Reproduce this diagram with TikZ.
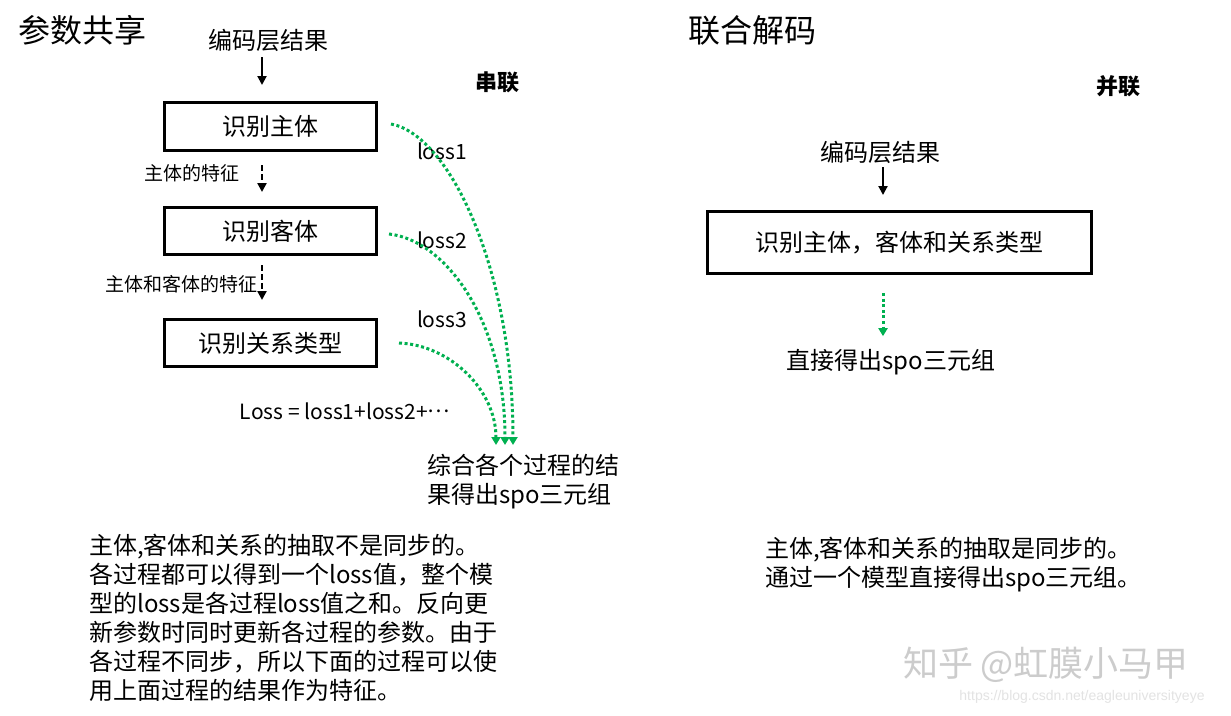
\documentclass[tikz,border=0pt]{standalone}
\usepackage{fontspec}
\setmainfont{Noto Sans CJK SC}
\newfontfamily\urlfont{Liberation Sans}
\usetikzlibrary{arrows.meta}
\definecolor{lossgreen}{RGB}{0,176,80}
\begin{document}
\begin{tikzpicture}[x=1pt,y=-1pt,
  txt/.style={inner sep=0pt, outer sep=0pt, font=\fontsize{24}{29}\selectfont},
  titletxt/.style={inner sep=0pt, font=\fontsize{32}{36}\selectfont},
  tagtxt/.style={inner sep=0pt, font=\fontsize{22}{25}\selectfont\bfseries},
  smalltxt/.style={inner sep=0pt, font=\fontsize{19}{22}\selectfont},
  losstxt/.style={inner sep=0pt, font=\fontsize{21}{24}\selectfont},
  paratxt/.style={inner sep=0pt, align=left, anchor=north west, font=\fontsize{24}{29}\selectfont},
  procbox/.style={draw, line width=3pt, inner sep=0pt, font=\fontsize{24}{29}\selectfont},
  blkarrow/.style={line width=2pt, -{Triangle[width=9pt,length=9pt]}},
  dasharrow/.style={line width=2.5pt, dash pattern=on 6pt off 3pt, -{Triangle[width=9pt,length=9pt]}},
  greenarrow/.style={lossgreen, line width=3pt, dash pattern=on 3pt off 2.6pt, -{Triangle[width=9pt,length=8pt]}},
]
\useasboundingbox (0,0) rectangle (1231,715);
\fill[white] (0,0) rectangle (1231,715);

% ---------- left: 参数共享 ----------
\node[titletxt] (lt) at (83,30) {参数共享};
\node[txt] (enc1) at (268,40) {编码层结果};
\node[tagtxt] (ser) at (497,82) {串联};
\node[procbox, minimum width=212pt, minimum height=48pt] (b1) at (270.5,126.5) {识别主体};
\node[procbox, minimum width=212pt, minimum height=47pt] (b2) at (270.5,231) {识别客体};
\node[procbox, minimum width=212pt, minimum height=47pt] (b3) at (270.5,343) {识别关系类型};
\node[smalltxt] (f1) at (192,173) {主体的特征};
\node[smalltxt] (f2) at (181,284) {主体和客体的特征};
\node[losstxt] (l1) at (442,151) {loss1};
\node[losstxt] (l2) at (442,240) {loss2};
\node[losstxt] (l3) at (442,319) {loss3};
\node[losstxt] (lsum) at (345,411) {Loss = loss1+loss2+\raisebox{0.3em}{…}};
\node[paratxt] (res) at (427,454) {综合各个过程的结\\果得出spo三元组};
\node[paratxt] (p1) at (89,534) {主体,客体和关系的抽取不是同步的。\\各过程都可以得到一个loss值，整个模\\型的loss是各过程loss值之和。反向更\\新参数时同时更新各过程的参数。由于\\各过程不同步，所以下面的过程可以使\\用上面过程的结果作为特征。};

\coordinate (c1) at (262,0);
\draw[blkarrow, shorten <=6pt, shorten >=16pt] (enc1.south -| c1) -- (b1.north -| c1);
\draw[dasharrow, shorten <=13pt, shorten >=14pt] (b1.south -| c1) -- (b2.north -| c1);
\draw[dasharrow, shorten <=9pt, shorten >=18pt] (b2.south -| c1) -- (b3.north -| c1);

\coordinate (e1) at (513,445);
\coordinate (e2) at (505,445);
\coordinate (e3) at (496,445);
\draw[greenarrow] ([xshift=13pt,yshift=2.5pt]b1.east) .. controls (450,135) and (513,270) .. (e1);
\draw[greenarrow] ([xshift=11pt,yshift=-3pt]b2.east) .. controls (445,240) and (505,320) .. (e2);
\draw[greenarrow] ([xshift=21pt]b3.east) .. controls (450,345) and (496,390) .. (e3);

% ---------- right: 联合解码 ----------
\node[titletxt] (rt) at (752,30) {联合解码};
\node[tagtxt] (par) at (1118,86) {并联};
\node[txt] (enc2) at (880,152) {编码层结果};
\node[procbox, minimum width=384pt, minimum height=62pt] (bb) at (899.5,242.5) {识别主体，客体和关系类型};
\node[txt] (direct) at (891,362) {直接得出spo三元组};
\node[paratxt] (p2) at (765,537) {主体,客体和关系的抽取是同步的。\\通过一个模型直接得出spo三元组。};

\coordinate (c2) at (883,0);
\draw[blkarrow, shorten <=4pt, shorten >=15pt] (enc2.south -| c2) -- (bb.north -| c2);
\draw[greenarrow, shorten <=18pt, shorten >=13pt] (bb.south -| c2) -- (direct.north -| c2);

% ---------- watermark ----------
\node[inner sep=0pt, text=gray!40, font=\fontsize{35}{38}\selectfont] (wm) at (1046,665) {知乎 @虹膜小马甲};
\node[inner sep=0pt, text=gray!22, font=\urlfont\fontsize{14}{16}\selectfont] (url) at (1082,697) {https://blog.csdn.net/eagleuniversityeye};
\end{tikzpicture}
\end{document}
